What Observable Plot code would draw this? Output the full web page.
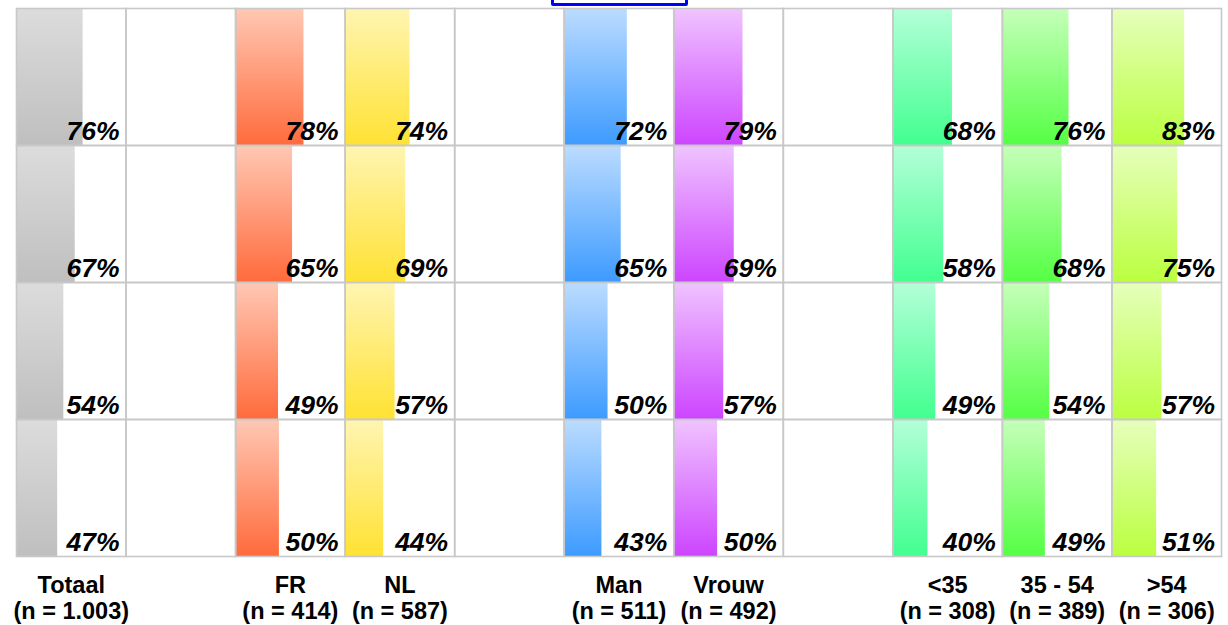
<!DOCTYPE html>
<html>
<head>
<meta charset="utf-8">
<script src="https://cdn.jsdelivr.net/npm/d3@7"></script>
<script src="https://cdn.jsdelivr.net/npm/@observablehq/plot@0.6"></script>
<style>
  html, body { margin: 0; padding: 0; background: #fff; }
  #wrap { position: relative; width: 1228px; height: 625px; overflow: hidden; }
  #legendbox { position: absolute; left: 551px; top: -30px; width: 137px; height: 35.5px;
    box-sizing: border-box; border: 3px solid #0000ff; border-radius: 2px; background: #fff; }
  svg { display: block; }
</style>
</head>
<body>
<div id="wrap"><div id="legendbox"></div></div>
<script>
// Columns (gap columns are empty spacer cells)
const columns = ["Totaal", "gap1", "FR", "NL", "gap2", "Man", "Vrouw", "gap3", "<35", "35 - 54", ">54"];
const columnLabels = ["Totaal", "", "FR", "NL", "", "Man", "Vrouw", "", "<35", "35 - 54", ">54"];
const sampleSizes = ["(n = 1.003)", "", "(n = 414)", "(n = 587)", "", "(n = 511)", "(n = 492)", "", "(n = 308)", "(n = 389)", "(n = 306)"];
const rows = ["r1", "r2", "r3", "r4"];

// Percentages per column, top row to bottom row
const totaal = [76, 67, 54, 47];
const fr     = [78, 65, 49, 50];
const nl     = [74, 69, 57, 44];
const man    = [72, 65, 50, 43];
const vrouw  = [79, 69, 57, 50];
const under35 = [68, 58, 49, 40];
const age3554 = [76, 68, 54, 49];
const over54  = [83, 75, 57, 51];

// Gradient colours per column [top, bottom]
const gradTop    = ["#dcdcdc", null, "#ffc8b4", "#fff5b2", null, "#bcdcff", "#f0c4ff", null, "#b4ffd8", "#c6ffba", "#e6ffbc"];
const gradBottom = ["#bfbfbf", null, "#ff6b3c", "#ffe233", null, "#3d9bff", "#cd45ff", null, "#42ff90", "#55ff44", "#bbff40"];

const seriesByColumn = [totaal, null, fr, nl, null, man, vrouw, null, under35, age3554, over54];

const data = [];
columns.forEach((c, ci) => {
  rows.forEach((r, ri) => {
    const s = seriesByColumn[ci];
    data.push({
      col: c, row: r, ci,
      value: s ? s[ri] : 0,
      spacer: !s,
      label: columnLabels[ci],
      n: sampleSizes[ci],
      last: ri === rows.length - 1
    });
  });
});

const svg = Plot.plot({
  width: 1228,
  height: 625,
  marginTop: 8,
  marginLeft: 16,
  marginRight: 7,
  marginBottom: 69,
  style: { fontFamily: "'Liberation Sans', Arial, sans-serif", background: "white" },
  facet: { data, x: "col", y: "row" },
  fx: { domain: columns, padding: 0, round: false, axis: null },
  fy: { domain: rows, padding: 0, round: false, axis: null },
  x: { domain: [0, 125], axis: null },
  color: { type: "identity" },
  marks: [
    Plot.barX(data, {
      filter: d => !d.spacer,
      x1: 0,
      x2: "value",
      fill: d => `url(#grad${d.ci})`
    }),
    Plot.frame({ stroke: "#c8c8c8", strokeWidth: 1.6 }),
    Plot.text(data, {
      filter: d => !d.spacer,
      text: d => d.value + "%",
      frameAnchor: "bottom-right",
      textAnchor: "end",
      lineAnchor: "bottom",
      dx: -6.5,
      dy: -5.5,
      fontSize: 26.5,
      fontWeight: "bold",
      fontStyle: "italic",
      fill: "#000"
    }),
    Plot.text(data, {
      filter: d => d.last && !d.spacer,
      text: "label",
      frameAnchor: "bottom",
      lineAnchor: "bottom",
      dy: 36.5,
      fontSize: 23.5,
      fontWeight: "bold",
      fill: "#000"
    }),
    Plot.text(data, {
      filter: d => d.last && !d.spacer,
      text: "n",
      frameAnchor: "bottom",
      lineAnchor: "bottom",
      dy: 62.5,
      fontSize: 23.5,
      fontWeight: "bold",
      fill: "#000"
    })
  ]
});

// Vertical gradients for the bars
const defs = d3.select(svg).insert("defs", ":first-child");
columns.forEach((c, ci) => {
  if (!gradTop[ci]) return;
  const g = defs.append("linearGradient")
    .attr("id", `grad${ci}`)
    .attr("x1", 0).attr("y1", 0).attr("x2", 0).attr("y2", 1);
  g.append("stop").attr("offset", "0%").attr("stop-color", gradTop[ci]);
  g.append("stop").attr("offset", "100%").attr("stop-color", gradBottom[ci]);
});

document.getElementById("wrap").insertBefore(svg, document.getElementById("legendbox"));
</script>
</body>
</html>
